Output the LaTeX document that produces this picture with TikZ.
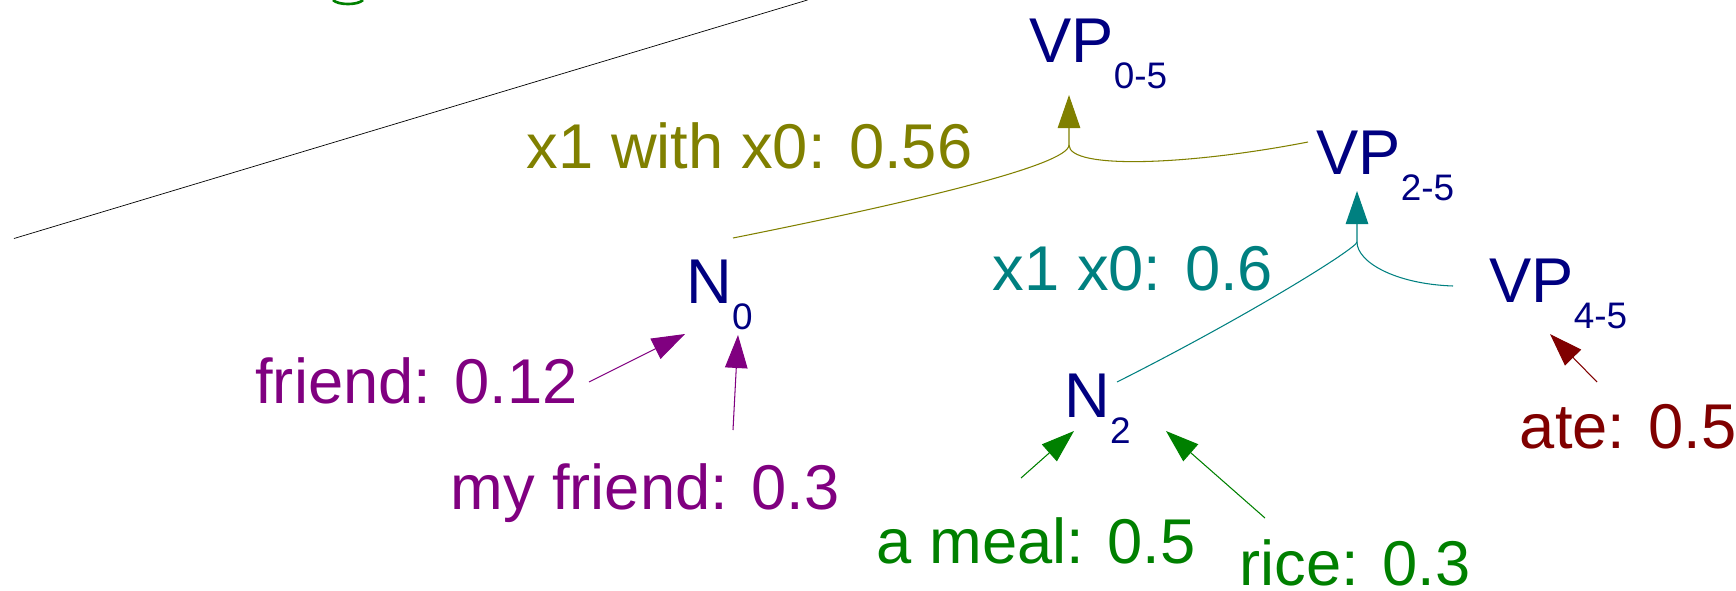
\documentclass[tikz,border=0pt]{standalone}
\usepackage{fontspec}
\setmainfont{Liberation Sans}
\usetikzlibrary{arrows.meta}
\definecolor{trnavy}{HTML}{000080}
\definecolor{trolive}{HTML}{808000}
\definecolor{trteal}{HTML}{008080}
\definecolor{trpurple}{HTML}{800080}
\definecolor{trgreen}{HTML}{008000}
\definecolor{trred}{HTML}{800000}
\newcommand{\spanidx}[1]{\raisebox{-0.52cm}{\fontsize{21pt}{21pt}\selectfont #1}}

\begin{document}
\begin{tikzpicture}[
  cat/.style={anchor=base west,inner sep=0pt,text=trnavy,
              font=\fontsize{36pt}{40pt}\selectfont},
  score/.style={anchor=base west,inner sep=0pt,
                font=\fontsize{36pt}{40pt}\selectfont},
  rule/.style={-{Triangle[length=6.6mm,width=4.5mm]},line width=0.6pt},
  branch/.style={line width=0.6pt}
]
\useasboundingbox (0,0) rectangle (34.72,-11.8);
% categories
\node[cat] (vp05) at (20.58,-1.24) {VP\spanidx{0-5}};
\node[cat] (vp25) at (26.32,-3.48) {VP\spanidx{2-5}};
\node[cat] (vp45) at (29.78,-6.04) {VP\spanidx{4-5}};
\node[cat] (n0) at (13.72,-6.06) {N\spanidx{0}};
\node[cat] (n2) at (21.28,-8.34) {N\spanidx{2}};
% scores
\node[score,text=trolive] (r1) at (10.53,-3.36) {x1 with x0: 0.56};
\node[score,text=trteal] (r2) at (19.85,-5.80) {x1 x0: 0.6};
\node[score,text=trpurple] (fr) at (5.10,-8.06) {friend: 0.12};
\node[score,text=trpurple] (myfr) at (9.00,-10.18) {my friend: 0.3};
\node[score,text=trgreen] (meal) at (17.53,-11.26) {a meal: 0.5};
\node[score,text=trgreen] (rice) at (24.78,-11.70) {rice: 0.3};
\node[score,text=trred] (ate) at (30.39,-8.96) {ate: 0.5};
% rule x1 with x0
\coordinate (j1) at (21.38,-2.90);
\draw[branch,trolive] ([shift={(0.94,1.30)}]n0.base west)
  .. controls +(3.60,0.72) and +(0,-0.40) .. (j1);
\draw[branch,trolive] ([shift={(-0.16,0.64)}]vp25.base west)
  .. controls +(-2.36,-0.46) and +(0,-0.50) .. (j1);
\draw[rule,trolive] (j1) -- ([shift={(0.80,-0.66)}]vp05.base west);
% rule x1 x0
\coordinate (j2) at (27.14,-4.84);
\draw[branch,trteal] ([shift={(1.06,0.70)}]n2.base west)
  .. controls +(2.66,1.34) and +(0,-0.12) .. (j2);
\draw[branch,trteal] ([shift={(-0.72,0.32)}]vp45.base west)
  .. controls +(-1.16,0.04) and +(0,-0.40) .. (j2);
\draw[rule,trteal] (j2) -- ([shift={(0.82,-0.34)}]vp25.base west);
% lexical rules
\draw[rule,trpurple] ([shift={(6.68,0.42)}]fr.base west)
  -- ([shift={(-0.02,-0.62)}]n0.base west);
\draw[rule,trpurple] ([shift={(5.66,1.58)}]myfr.base west)
  -- ([shift={(1.04,-0.64)}]n0.base west);
\draw[rule,trgreen] ([shift={(2.89,1.70)}]meal.base west)
  -- ([shift={(0.20,-0.28)}]n2.base west);
\draw[rule,trgreen] ([shift={(0.52,1.34)}]rice.base west)
  -- ([shift={(2.04,-0.28)}]n2.base west);
\draw[rule,trred] ([shift={(1.55,1.32)}]ate.base west)
  -- ([shift={(1.22,-0.64)}]vp45.base west);
% cut off at the top
\draw[line width=0.4pt] (0.28,-4.77) -- (16.15,0);
\draw[trgreen,line width=1.5pt] (6.66,0)
  .. controls (6.76,-0.107) and (7.16,-0.107) .. (7.26,0);
\end{tikzpicture}
\end{document}
